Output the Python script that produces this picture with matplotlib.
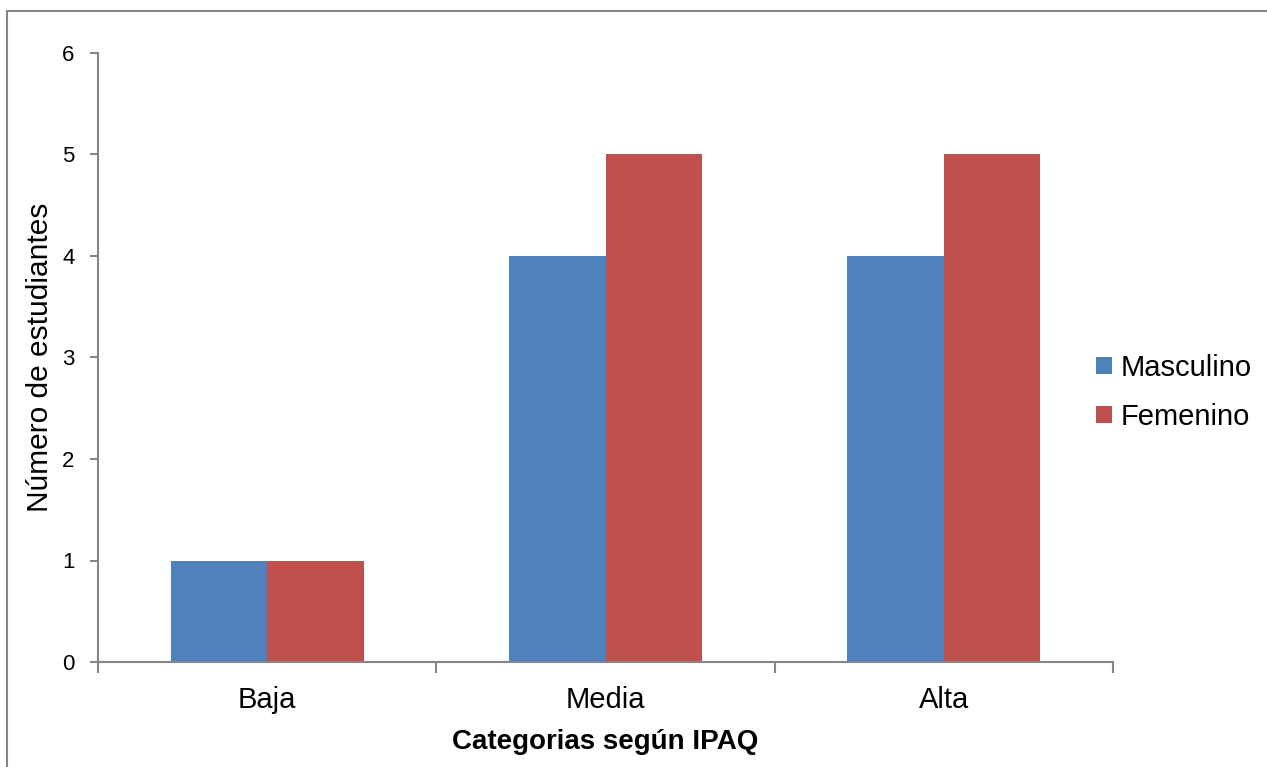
import matplotlib.pyplot as plt
import numpy as np
from matplotlib.patches import Rectangle
from matplotlib.ticker import FixedLocator

plt.rcParams['font.family'] = ['Liberation Sans', 'DejaVu Sans']

categorias = ['Baja', 'Media', 'Alta']
masculino = [1, 4, 4]
femenino = [1, 5, 5]
series = ['Masculino', 'Femenino']
colores = ['#4F81BD', '#C0504D']

fig = plt.figure(figsize=(12.67, 7.67), dpi=100)
ax = fig.add_axes([98 / 1267, 1 - 662 / 767, (1113 - 98) / 1267, (662 - 53) / 767])

# outer chart frame (only left and top edges fall inside the image)
fig.patches.append(Rectangle((7 / 1267, -0.1), 1.2, 1 - 11 / 767 + 0.1,
                             transform=fig.transFigure, fill=False,
                             edgecolor='#868686', linewidth=1.5))

x = np.arange(len(categorias))
w = 0.285
ax.bar(x - w / 2, masculino, w, color=colores[0], label=series[0])
ax.bar(x + w / 2, femenino, w, color=colores[1], label=series[1])

ax.set_xlim(-0.5, 2.5)
ax.set_ylim(0, 6)
ax.set_yticks(range(0, 7))
ax.set_xticks(x)
ax.set_xticklabels(categorias, fontsize=21)
ax.tick_params(axis='x', which='major', length=0, pad=17)
ax.xaxis.set_minor_locator(FixedLocator([-0.5, 0.5, 1.5, 2.5]))
ax.tick_params(axis='x', which='minor', length=8, width=1.5, color='#868686', direction='out')
ax.tick_params(axis='y', length=6, width=1.5, color='#868686', labelsize=16, pad=11)

for s in ['top', 'right']:
    ax.spines[s].set_visible(False)
for s in ['left', 'bottom']:
    ax.spines[s].set_color('#868686')
    ax.spines[s].set_linewidth(1.5)

ax.set_ylabel('Número de estudiantes', fontsize=21.5, labelpad=6)
ax.set_xlabel('Categorias según IPAQ', fontsize=20, fontweight='bold', labelpad=11)

ax.legend(loc='center left', bbox_to_anchor=(0.983, 0.443), frameon=False,
          fontsize=21, handlelength=0.55, handleheight=0.55, handletextpad=0.3,
          labelspacing=0.72, borderpad=0, borderaxespad=0)

fig.savefig('out.png', dpi=100)
